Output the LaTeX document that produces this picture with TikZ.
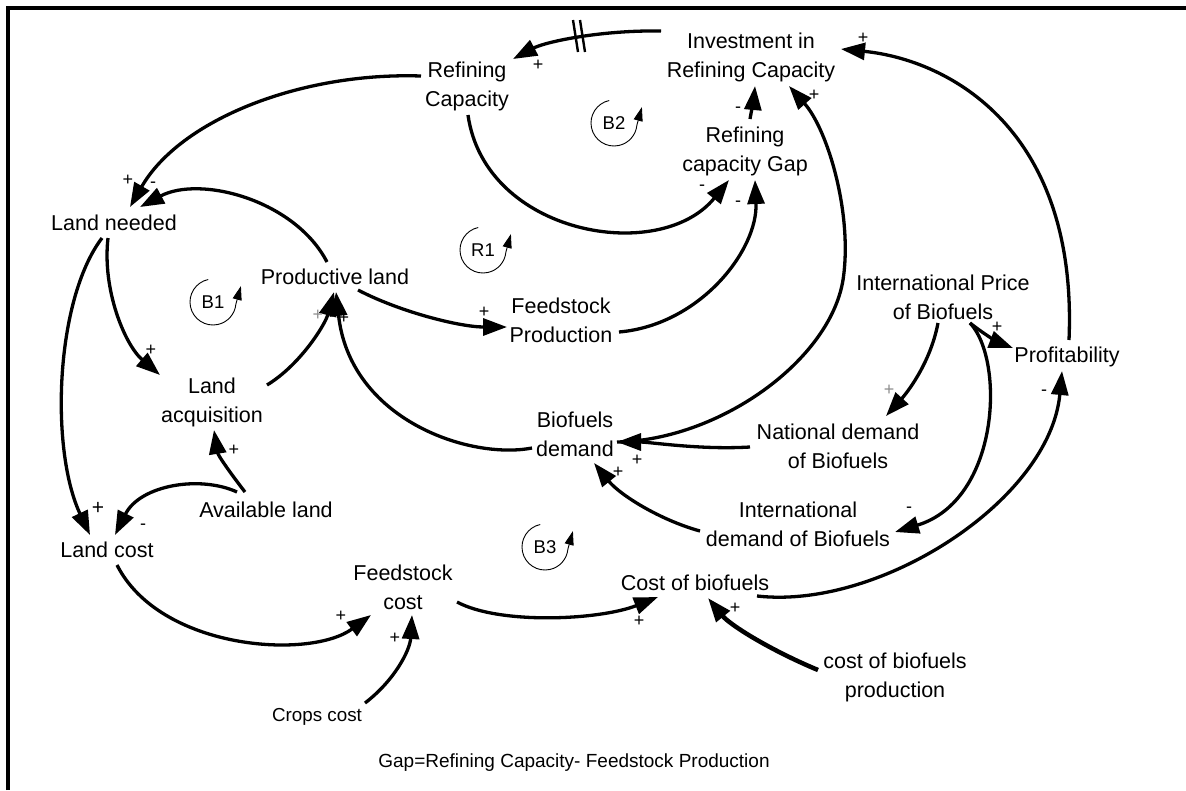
\documentclass[tikz,border=0pt]{standalone}
\usepackage{fontspec}
\setmainfont{Liberation Sans}
\usetikzlibrary{arrows.meta,calc}
\begin{document}
\begin{tikzpicture}[x=1pt,y=-1pt,
  lbl/.style={font=\fontsize{21.5}{29}\selectfont, align=center, inner sep=0pt},
  sgn/.style={font=\fontsize{18}{18}\selectfont, inner sep=0pt},
  gsgn/.style={sgn, text=black!45},
  lnk/.style={line width=3.3pt, -{Triangle[length=24pt,width=17pt]}},
  thicklnk/.style={lnk, line width=4.5pt},
  loopc/.style={line width=0.9pt, -{Triangle[length=14pt,width=9pt]}},
  looptxt/.style={font=\fontsize{18.5}{18.5}\selectfont, inner sep=0pt}
]
\useasboundingbox (0,0) rectangle (1186,790);
% frame
\draw[line width=4pt] (8,790) -- (8,8) -- (1186,8);

% variables
\node[lbl] (inv) at (751,57.5) {Investment in\\Refining Capacity};
\node[lbl] (rc) at (467,86) {Refining\\Capacity};
\node[lbl] (gap) at (745,151.5) {Refining\\capacity Gap};
\node[lbl] (ln) at (114,223) {Land needed};
\node[lbl] (pl) at (335,277) {Productive land};
\node[lbl] (fp) at (561,320) {Feedstock\\Production};
\node[lbl] (ip) at (943,297.5) {International Price\\of Biofuels};
\node[lbl] (prof) at (1067,357) {Profitability};
\node[lbl] (la) at (212,402) {Land\\acquisition};
\node[lbl] (bd) at (575,434) {Biofuels\\demand};
\node[lbl] (nd) at (838,446) {National demand\\of Biofuels};
\node[lbl] (al) at (266,510) {Available land};
\node[lbl] (lc) at (107,550) {Land cost};
\node[lbl] (id) at (798,524.5) {International\\demand of Biofuels};
\node[lbl] (fc) at (403,587.5) {Feedstock\\cost};
\node[lbl] (cb) at (695,583) {Cost of biofuels};
\node[lbl] (cbp) at (895,677) {cost of biofuels\\production};
\node[font=\fontsize{18.8}{20}\selectfont, inner sep=0pt] (cc) at (317,717) {Crops cost};
\node[font=\fontsize{19}{20}\selectfont, inner sep=0pt] (note) at (574,763) {Gap=Refining Capacity- Feedstock Production};

% loop markers
\node[looptxt] (b2) at (614,123) {B2};
\node[looptxt] (r1) at (483,250) {R1};
\node[looptxt] (b1) at (213,302) {B1};
\node[looptxt] (b3) at (545,547) {B3};
\foreach \L in {b2,r1,b1,b3}{
  \draw[loopc] (\L.center) ++(258:23) arc[start angle=258,end angle=5,radius=23] -- ++(5,-18);
}

% links
\draw[lnk] ($(inv)+(-90,-26.5)$) .. controls (600,30) and (545,42) .. ($(rc)+(46,-27)$);
\draw[line width=2.4pt] (573,20) -- (578,52);
\draw[line width=2.4pt] (580,20) -- (585,52);
\draw[lnk] ($(rc)+(-46,-10)$) .. controls (300,72) and (180,120) .. ($(ln)+(16,-16)$);
\draw[lnk] ($(pl)+(-8,-15)$) .. controls (295,200) and (200,175) .. ($(ln)+(26,-16)$);
\draw[lnk] ($(rc)+(1,29)$) .. controls (485,235) and (660,265) .. ($(gap)+(-16,28.5)$);
\draw[lnk] ($(gap)+(5,-32.5)$) .. controls (752,108) and (754,97) .. ($(inv)+(4,28.5)$);
\draw[lnk] ($(fp)+(58,12)$) .. controls (700,325) and (758,250) .. ($(gap)+(10,28.5)$);
\draw[lnk] ($(bd)+(42,8)$) .. controls (720,440) and (830,360) .. (843,280) .. controls (853,215) and (828,130) .. ($(inv)+(38,28.5)$);
\draw[lnk] ($(prof)+(2,-17)$) .. controls (1078,130) and (950,60) .. ($(inv)+(90,-8.5)$);
\draw[lnk] ($(ln)+(-6,15)$) .. controls (102,290) and (125,345) .. ($(la)+(-52,-27)$);
\draw[lnk] ($(ln)+(-12,15)$) .. controls (55,300) and (50,450) .. ($(lc)+(-17,-15)$);
\draw[lnk] ($(pl)+(23,13)$) .. controls (400,312) and (460,327) .. ($(fp)+(-54,7)$);
\draw[lnk] ($(la)+(55,-17)$) .. controls (300,365) and (325,325) .. ($(pl)+(-1,15)$);
\draw[lnk] ($(bd)+(-43,14)$) .. controls (470,460) and (350,420) .. ($(pl)+(1,15)$);
\draw[lnk] ($(al)+(-21,-18)$) .. controls (228,470) and (218,455) .. ($(la)+(2,28)$);
\draw[lnk] ($(al)+(-29,-18)$) .. controls (200,475) and (140,485) .. ($(lc)+(8,-15)$);
\draw[lnk] ($(lc)+(10,15)$) .. controls (160,650) and (310,660) .. ($(fc)+(-32,27.5)$);
\draw[lnk] ($(cc)+(48,-14)$) .. controls (395,680) and (410,650) .. ($(fc)+(9,27.5)$);
\draw[lnk] ($(fc)+(54,14.5)$) .. controls (500,625) and (600,620) .. ($(cb)+(-37,14)$);
\draw[thicklnk] ($(cbp)+(-77,-7)$) .. controls (770,650) and (730,625) .. ($(cb)+(13,15)$);
\draw[lnk] ($(cb)+(62,13)$) .. controls (880,610) and (1050,500) .. ($(prof)+(-5,14)$);
\draw[lnk] ($(ip)+(-5,25.5)$) .. controls (930,365) and (905,395) .. ($(nd)+(48,-30)$);
\draw[lnk] ($(nd)+(-88,1)$) .. controls (700,450) and (650,442) .. ($(bd)+(42,8)$);
\draw[lnk] ($(id)+(-98,6.5)$) .. controls (660,520) and (620,495) .. ($(bd)+(19,29)$);
\draw[lnk] ($(ip)+(27,25.5)$) .. controls (1005,360) and (1000,500) .. ($(id)+(97,7.5)$);
\draw[lnk] ($(ip)+(27,25.5)$) .. controls (985,335) and (1000,343) .. ($(prof)+(-54,-9)$);

% polarities
\node[sgn] at (538,65) {+};
\node[sgn] at (128,180) {+};
\node[sgn] at (153,185) {-};
\node[sgn] at (702,188) {-};
\node[sgn] at (738,110) {-};
\node[sgn] at (738,204) {-};
\node[sgn] at (814,95) {+};
\node[sgn] at (863,38) {+};
\node[sgn] at (151,350) {+};
\node[sgn, font=\fontsize{21}{21}\selectfont] at (98,508) {+};
\node[sgn] at (484,312) {+};
\node[gsgn] at (318,315) {+};
\node[sgn] at (344,318) {+};
\node[sgn] at (234,450) {+};
\node[sgn] at (143,527) {-};
\node[sgn] at (341,616) {+};
\node[sgn] at (395,638) {+};
\node[sgn] at (639,621) {+};
\node[sgn] at (735,608) {+};
\node[sgn] at (1044,393) {-};
\node[gsgn] at (889,390) {+};
\node[sgn] at (637,460) {+};
\node[sgn] at (618,472) {+};
\node[sgn] at (909,510) {-};
\node[sgn] at (997,327) {+};
\end{tikzpicture}
\end{document}
